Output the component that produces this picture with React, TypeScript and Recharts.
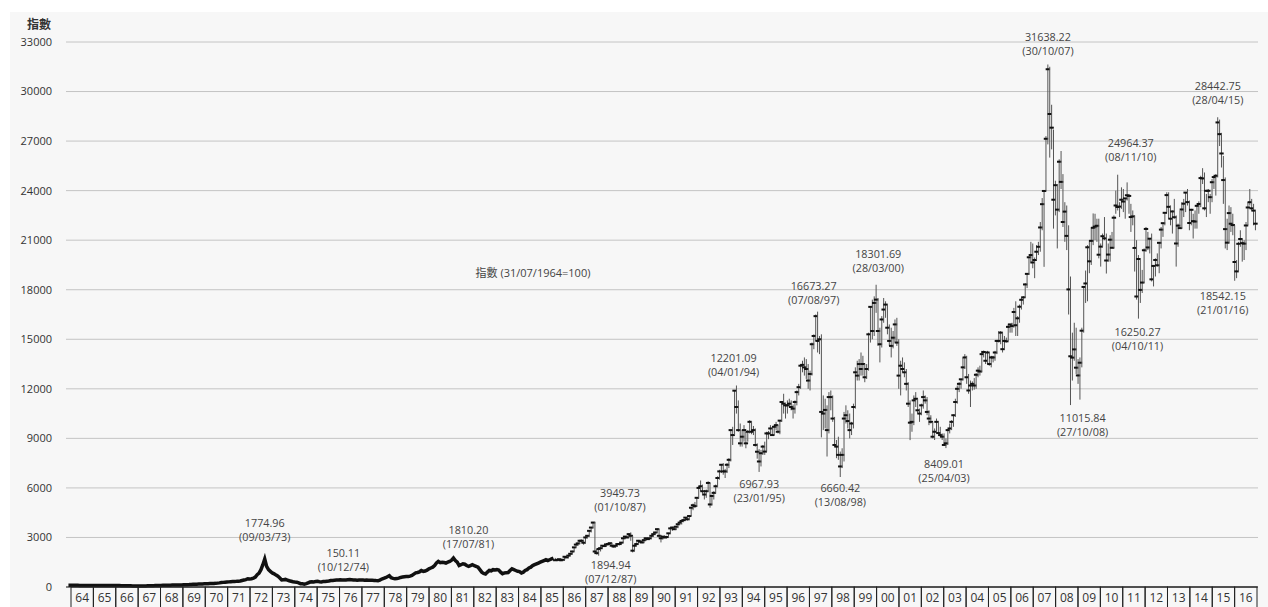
import { Bar, CartesianGrid, ComposedChart, Line, ReferenceDot, XAxis, YAxis } from "recharts";

// Hang Seng Index, monthly, from 07/1964. Closes only up to 12/1985.
const closeEarly = [
  100, 101, 102, 101, 100, 101,
  98, 95, 90, 86, 88, 90, 92, 91, 90, 88, 87, 86,
  87, 86, 85, 84, 85, 86, 87, 86, 85, 84, 82, 80,
  78, 75, 72, 70, 65, 62, 60, 60, 62, 63, 64, 66,
  70, 73, 76, 80, 85, 88, 92, 95, 100, 105, 108, 107,
  110, 115, 120, 125, 120, 118, 122, 130, 135, 140, 145, 155,
  160, 165, 170, 175, 180, 185, 190, 195, 200, 210, 215, 212,
  220, 235, 250, 270, 280, 290, 300, 310, 320, 330, 340, 341,
  345, 360, 390, 420, 450, 500, 480, 500, 530, 600, 750, 843,
  1050, 1350, 1700, 1250, 1050, 950, 850, 800, 720, 650, 550, 433,
  440, 460, 420, 380, 350, 320, 300, 290, 250, 200, 190, 171,
  200, 250, 300, 320, 310, 330, 340, 320, 310, 330, 340, 350,
  360, 390, 400, 410, 420, 430, 440, 430, 420, 430, 440, 447,
  440, 430, 420, 410, 420, 430, 420, 410, 420, 410, 405, 404,
  400, 390, 385, 420, 480, 520, 560, 620, 680, 560, 520, 496,
  510, 540, 580, 600, 620, 630, 640, 660, 700, 780, 860, 880,
  920, 1000, 950, 970, 1020, 1100, 1150, 1200, 1300, 1450, 1550, 1474,
  1500, 1480, 1450, 1500, 1550, 1620, 1750, 1600, 1500, 1300, 1350, 1405,
  1380, 1300, 1250, 1300, 1350, 1300, 1250, 1200, 1050, 900, 820, 784,
  900, 1000, 980, 1050, 1030, 1050, 1020, 900, 800, 850, 870, 875,
  1000, 1100, 1050, 1000, 950, 930, 850, 900, 1000, 1050, 1150, 1200,
  1300, 1350, 1400, 1450, 1500, 1550, 1600, 1650, 1600, 1650, 1700, 1752,
];

// 01/1986 - 12/2016: monthly high / low / close
const high = [
  1760, 1680, 1720, 1700, 1690, 1840, 1850, 1920, 2050, 2200, 2420, 2580,
  2700, 2850, 2880, 2860, 3050, 3150, 3450, 3620, 3949, 3940, 2300, 2400,
  2450, 2520, 2560, 2600, 2680, 2700, 2660, 2520, 2540, 2640, 2650, 2700,
  2980, 3100, 3100, 3250, 3310, 3100, 2550, 2700, 2850, 2830, 2780, 2860,
  3000, 3000, 3000, 3120, 3240, 3350, 3560, 3500, 3150, 3070, 3120, 3100,
  3280, 3560, 3650, 3660, 3700, 3820, 3980, 4040, 4100, 4230, 4260, 4300,
  4810, 5050, 5150, 5420, 6100, 6450, 6200, 5880, 5900, 6400, 6300, 5600,
  5800, 6200, 6700, 7100, 7450, 7500, 7150, 7500, 7800, 9500, 9700, 11900,
  12201, 11300, 9900, 9500, 9800, 9400, 9500, 10100, 10050, 9750, 9600, 8700,
  8350, 8300, 8600, 8800, 9400, 9450, 9800, 9650, 9800, 10000, 9800, 10100,
  11250, 11700, 11150, 11300, 11400, 11300, 11050, 11300, 11900, 12300, 13500, 13700,
  13900, 13800, 13500, 13100, 14800, 15300, 16500, 16673, 15200, 15300, 11600, 11400,
  11000, 11800, 11900, 11600, 10300, 8900, 9100, 8200, 8400, 10600, 11000, 10700,
  10500, 10000, 11100, 13300, 13700, 13800, 14200, 14000, 13500, 13500, 15400, 17000,
  17400, 17600, 18301, 17500, 15700, 16400, 17500, 17300, 17100, 15900, 15700, 15500,
  16200, 16300, 15000, 13700, 13900, 13600, 13200, 12400, 11300, 10500, 11600, 11800,
  11400, 10800, 11100, 11900, 11600, 11500, 10700, 10400, 10000, 9600, 10200, 10050,
  9700, 9300, 9300, 9000, 9550, 9900, 10100, 10450, 11400, 12200, 12400, 12600,
  13900, 14100, 14000, 12900, 12500, 12450, 12650, 12950, 13300, 13400, 14300, 14320,
  14270, 14300, 14200, 14000, 14000, 14300, 14900, 15500, 15500, 15400, 15200, 15100,
  15900, 15900, 16000, 16900, 17300, 16400, 17100, 17500, 17620, 18400, 19000, 20000,
  20900, 20800, 19950, 20700, 20900, 22100, 23550, 24000, 27300, 31638, 31500, 29200,
  27700, 24600, 24400, 25900, 26400, 25000, 23300, 23100, 21900, 18800, 15400, 16000,
  15700, 13800, 13900, 15700, 18200, 19160, 20700, 21000, 21800, 22620, 22600, 22300,
  22300, 20800, 21400, 22400, 21400, 20800, 21300, 21500, 22500, 24000, 24964, 23300,
  24200, 24100, 23500, 24500, 23800, 23200, 22800, 22500, 21000, 20100, 19800, 19200,
  20500, 21800, 21500, 21100, 21400, 19500, 19900, 20200, 20900, 21800, 22050, 22700,
  23900, 23900, 23100, 22800, 23500, 22500, 22000, 22800, 23300, 23500, 23900, 24100,
  23400, 22900, 22600, 22800, 23100, 23350, 24900, 25360, 25100, 23800, 24100, 23800,
  24700, 24900, 25000, 28443, 28300, 27500, 26100, 24800, 22300, 23100, 23000, 22600,
  21900, 19800, 20900, 21600, 21100, 21000, 22100, 23300, 24100, 23500, 23200, 22800,
];

const low = [
  1580, 1560, 1610, 1560, 1600, 1640, 1760, 1780, 1880, 1980, 2140, 2380,
  2500, 2600, 2700, 2560, 2650, 2950, 3050, 3300, 3550, 2000, 1960, 1895,
  2150, 2300, 2420, 2450, 2520, 2560, 2460, 2380, 2400, 2480, 2520, 2560,
  2680, 2900, 2950, 3000, 2800, 2093, 2180, 2480, 2580, 2650, 2640, 2680,
  2780, 2850, 2880, 2900, 3050, 3150, 3270, 3000, 2700, 2880, 2950, 2950,
  2980, 3230, 3400, 3480, 3450, 3560, 3760, 3780, 3920, 4010, 4020, 4050,
  4300, 4650, 4780, 4850, 5350, 5800, 5650, 5300, 5400, 5750, 4800, 4940,
  5300, 5650, 6050, 6500, 6900, 6800, 6600, 6900, 7200, 7600, 8600, 9200,
  10500, 9400, 8500, 8500, 8800, 8400, 8800, 9300, 9250, 9200, 8500, 7770,
  6968, 7300, 8000, 8000, 8200, 8950, 9150, 9150, 9200, 9500, 9300, 9250,
  10000, 10500, 10200, 10500, 10850, 10700, 10200, 10500, 11000, 11600, 12000, 13000,
  12800, 12600, 12000, 11900, 12800, 14400, 14900, 14200, 14100, 9059, 9500, 9600,
  7900, 9300, 10700, 10000, 8500, 7800, 7700, 6660, 7200, 7600, 9900, 9600,
  9000, 9200, 9600, 10800, 12500, 12500, 12800, 12800, 12400, 12600, 13100, 14800,
  15000, 15200, 16600, 14600, 13600, 14500, 16000, 16300, 15300, 14600, 13900, 14450,
  14800, 14600, 12000, 11600, 13000, 12700, 11900, 10900, 8894, 9400, 9800, 10900,
  10500, 10000, 10400, 10800, 11100, 10400, 9800, 9900, 9000, 8900, 9300, 9300,
  9100, 8900, 8600, 8409, 8600, 9300, 9500, 9700, 10300, 11100, 11800, 12000,
  12500, 13200, 12300, 11700, 10900, 11900, 11950, 12000, 12700, 12800, 13000, 13900,
  13500, 13500, 13400, 13300, 13600, 13700, 14100, 14800, 14700, 14200, 14400, 14800,
  14900, 15400, 15400, 15700, 15200, 15200, 16000, 16800, 17100, 17500, 18100, 18900,
  19600, 19300, 18700, 19800, 20100, 20300, 21600, 19386, 24000, 26800, 26000, 26500,
  21700, 22500, 20500, 22700, 24100, 21800, 20900, 20400, 16500, 11016, 12500, 13700,
  12900, 12300, 11345, 13300, 15400, 17200, 17300, 19000, 19500, 20700, 21000, 20900,
  19900, 19400, 20600, 21000, 18980, 19700, 19700, 20500, 20500, 22600, 22800, 22400,
  22900, 22700, 22300, 23400, 22600, 21500, 21900, 19100, 17400, 16250, 17200, 17800,
  18400, 20300, 20400, 20200, 18500, 18200, 18800, 19400, 19000, 20500, 21200, 21900,
  22700, 22300, 21900, 21400, 22300, 19400, 20600, 21700, 21700, 22400, 22700, 23100,
  21600, 21900, 21100, 21700, 21700, 22600, 23000, 24400, 22800, 22400, 23300, 22600,
  23300, 24100, 23700, 24800, 26700, 25400, 23200, 20500, 20400, 20800, 21500, 21300,
  18542, 18700, 19100, 20600, 19700, 19800, 20400, 21900, 23100, 22800, 21900, 21600,
];

const close = [
  1620, 1640, 1680, 1620, 1650, 1830, 1790, 1900, 2010, 2150, 2400, 2568,
  2640, 2800, 2800, 2680, 3000, 3100, 3400, 3600, 3900, 2150, 2050, 2303,
  2350, 2500, 2480, 2580, 2600, 2650, 2500, 2450, 2500, 2600, 2600, 2687,
  2950, 3050, 3000, 3200, 3100, 2200, 2500, 2600, 2800, 2750, 2700, 2837,
  2950, 2900, 2950, 3100, 3200, 3300, 3500, 3100, 2950, 3050, 3000, 3025,
  3250, 3550, 3600, 3500, 3650, 3800, 3900, 4000, 4050, 4200, 4100, 4297,
  4800, 4950, 4900, 5400, 6000, 6100, 5800, 5600, 5800, 6300, 5000, 5512,
  5700, 6100, 6600, 7000, 7400, 7000, 7000, 7400, 7700, 9500, 9200, 11888,
  10900, 9500, 8700, 9100, 9500, 8700, 9400, 10000, 9400, 9500, 8600, 8191,
  7600, 8100, 8500, 8200, 9300, 9300, 9600, 9200, 9700, 9800, 9400, 10073,
  11200, 11100, 11000, 11000, 11100, 10900, 10800, 11200, 11800, 12100, 13400, 13451,
  13300, 13200, 12500, 12900, 14700, 15200, 16400, 14900, 15000, 10600, 10500, 10722,
  9500, 11500, 11500, 10200, 8600, 8500, 8000, 7300, 8000, 10200, 10400, 10049,
  9500, 9900, 10900, 13000, 12800, 13500, 13200, 13500, 12700, 13200, 15300, 16962,
  15500, 17200, 17400, 15500, 14700, 16200, 16800, 17100, 15700, 14900, 14600, 15096,
  15900, 14800, 12800, 13400, 13200, 13000, 12300, 11100, 9950, 10000, 11300, 11397,
  10700, 10500, 11000, 11500, 11300, 10600, 10200, 10000, 9100, 9400, 10000, 9321,
  9200, 9100, 8600, 8700, 9500, 9600, 10000, 10400, 11200, 12000, 12300, 12576,
  13300, 13900, 12700, 11900, 12200, 12300, 12200, 12850, 13100, 13050, 14100, 14230,
  13700, 14200, 13500, 13900, 13900, 14200, 14900, 14900, 15400, 14400, 14900, 14876,
  15750, 15900, 15800, 16650, 15850, 16270, 16970, 17390, 17540, 18320, 18960, 19965,
  20100, 19650, 19800, 20300, 20600, 21770, 23180, 23980, 27140, 31350, 28640, 27812,
  23450, 24330, 22850, 25750, 24530, 22100, 22730, 21260, 18020, 13970, 13890, 14387,
  13280, 12810, 13580, 15520, 18170, 18380, 20570, 19720, 20960, 21750, 21820, 21873,
  20120, 20610, 21240, 21110, 19770, 20130, 21030, 20540, 22360, 23100, 23010, 23035,
  23450, 23340, 23530, 23720, 23680, 22400, 22440, 20530, 17590, 19860, 17990, 18434,
  20390, 21680, 20560, 21090, 18630, 19440, 19800, 19480, 20840, 21640, 22030, 22657,
  23730, 23020, 22300, 22740, 22390, 20800, 21880, 21730, 22860, 23210, 23880, 23306,
  22040, 22840, 22150, 22130, 23080, 23190, 24760, 24740, 22930, 23990, 23990, 23605,
  24510, 24820, 24900, 28130, 27420, 26250, 24640, 21670, 20850, 22640, 21996, 21914,
  19680, 19110, 20780, 21070, 20820, 20790, 21890, 22980, 23300, 22930, 22790, 22000,
];

const yearLabels = [
  "64", "65", "66", "67", "68", "69", "70", "71", "72", "73", "74", "75", "76", "77",
  "78", "79", "80", "81", "82", "83", "84", "85", "86", "87", "88", "89", "90", "91",
  "92", "93", "94", "95", "96", "97", "98", "99", "00", "01", "02", "03", "04", "05",
  "06", "07", "08", "09", "10", "11", "12", "13", "14", "15", "16",
];

const yTicks = [0, 3000, 6000, 9000, 12000, 15000, 18000, 21000, 24000, 27000, 30000, 33000];

// highs and lows that carry a label: year, month, value, text, date
const marks = [
  { y: 1973, m: 3, v: 1774.96, text: "1774.96", date: "(09/03/73)", dx: 0, dy: -35 },
  { y: 1974, m: 12, v: 150.11, text: "150.11", date: "(10/12/74)", dx: 39, dy: -32 },
  { y: 1981, m: 7, v: 1810.2, text: "1810.20", date: "(17/07/81)", dx: 15, dy: -27 },
  { y: 1987, m: 10, v: 3949.73, text: "3949.73", date: "(01/10/87)", dx: 25, dy: -29 },
  { y: 1987, m: 12, v: 1894.94, text: "1894.94", date: "(07/12/87)", dx: 12, dy: 9 },
  { y: 1994, m: 1, v: 12201.09, text: "12201.09", date: "(04/01/94)", dx: -3, dy: -27 },
  { y: 1995, m: 1, v: 6967.93, text: "6967.93", date: "(23/01/95)", dx: 0, dy: 12 },
  { y: 1997, m: 8, v: 16673.27, text: "16673.27", date: "(07/08/97)", dx: -4, dy: -26 },
  { y: 1998, m: 8, v: 6660.42, text: "6660.42", date: "(13/08/98)", dx: 0, dy: 11 },
  { y: 2000, m: 3, v: 18301.69, text: "18301.69", date: "(28/03/00)", dx: 2, dy: -31 },
  { y: 2003, m: 4, v: 8409.01, text: "8409.01", date: "(25/04/03)", dx: -2, dy: 16 },
  { y: 2007, m: 10, v: 31638.22, text: "31638.22", date: "(30/10/07)", dx: 0, dy: -27 },
  { y: 2008, m: 10, v: 11015.84, text: "11015.84", date: "(27/10/08)", dx: 12, dy: 13 },
  { y: 2010, m: 11, v: 24964.37, text: "24964.37", date: "(08/11/10)", dx: 13, dy: -32 },
  { y: 2011, m: 10, v: 16250.27, text: "16250.27", date: "(04/10/11)", dx: -1, dy: 13 },
  { y: 2015, m: 4, v: 28442.75, text: "28442.75", date: "(28/04/15)", dx: 0, dy: -31 },
  { y: 2016, m: 1, v: 18542.15, text: "18542.15", date: "(21/01/16)", dx: -12, dy: 15 },
];

const monthIndex = (y: number, m: number) => (y - 1964) * 12 + (m - 7);

const rows: any[] = [];
closeEarly.forEach((c, i) => rows.push({ i, c }));
close.forEach((c, k) =>
  rows.push({ i: closeEarly.length + k, range: [low[k], high[k]], hi: high[k], lo: low[k], cl: c })
);

const FONT = "'Open Sans', 'Noto Sans CJK TC', sans-serif";
const W = 1268;
const H = 607;
const AXIS_H = 20;
const PLOT_BOTTOM = H - AXIS_H;
const PLOT_LEFT = 66;
const PLOT_RIGHT = 1258;
const X_DOMAIN: [number, number] = [-1.3, 630.3];
// the year cells run from x=71 to x=1257, 53 equal cells
const CELL_LEFT = 71;
const CELL_W = 1186 / 53;
const pxToMonth = (px: number) =>
  X_DOMAIN[0] + ((px - PLOT_LEFT) / (PLOT_RIGHT - PLOT_LEFT)) * (X_DOMAIN[1] - X_DOMAIN[0]);
const cellTicks = yearLabels.map((_, k) => pxToMonth(CELL_LEFT + (k + 0.5) * CELL_W));

function HLBar(props: any) {
  const { x, y, width, height, payload } = props;
  if (!payload || !payload.range) return null;
  const cx = x + width / 2;
  const top = Math.min(y, y + height);
  const bottom = Math.max(y, y + height);
  const span = payload.hi - payload.lo;
  const cy = span > 0 ? top + ((payload.hi - payload.cl) / span) * (bottom - top) : top;
  return (
    <g>
      <line x1={cx} x2={cx} y1={top} y2={bottom} stroke="#555" strokeWidth={1} />
      <line x1={cx - 2.2} x2={cx + 2.2} y1={cy} y2={cy} stroke="#111" strokeWidth={2} />
    </g>
  );
}

function YearTick(props: any) {
  const { x, index } = props;
  const label = yearLabels[index];
  return (
    <g>
      <rect x={x - CELL_W / 2} y={PLOT_BOTTOM} width={CELL_W} height={AXIS_H + 2} fill="none" stroke="#222" strokeWidth={1} />
      <text x={x} y={PLOT_BOTTOM + 15} textAnchor="middle" fontSize={12} fill="#333" fontFamily={FONT}>
        {label}
      </text>
    </g>
  );
}

function markShape(mk: (typeof marks)[number]) {
  return (p: any) => (
    <g>
      <text x={p.cx + mk.dx} y={p.cy + mk.dy + 4} textAnchor="middle" fontSize={10.8} fill="#444" fontFamily={FONT}>
        {mk.text}
      </text>
      <text x={p.cx + mk.dx} y={p.cy + mk.dy + 18} textAnchor="middle" fontSize={10.8} fill="#444" fontFamily={FONT}>
        {mk.date}
      </text>
    </g>
  );
}

export default function App() {
  return (
    <div style={{ position: "absolute", left: 0, top: 0, width: W, height: H, background: "#fff", fontFamily: FONT, overflow: "hidden" }}>
      <div style={{ position: "absolute", left: 10, top: 12, width: W - 10, height: H - 12, background: "#f7f7f7" }} />
      <div style={{ position: "absolute", left: 27, top: 15, fontSize: 12, fontWeight: 700, color: "#333" }}>指數</div>
      <div style={{ position: "absolute", left: 533, top: 272, transform: "translate(-50%, -50%)", fontSize: 11, color: "#444", whiteSpace: "nowrap" }}>
        指數 (31/07/1964=100)
      </div>
      <div style={{ position: "absolute", left: 0, top: 0 }}>
        <ComposedChart width={W} height={H} data={rows} margin={{ top: 42, right: W - PLOT_RIGHT, left: 0, bottom: 0 }}>
          <CartesianGrid xAxisId="m" vertical={false} stroke="#c4c4c4" strokeWidth={1} />
          <XAxis
            xAxisId="m"
            type="number"
            dataKey="i"
            domain={X_DOMAIN}
            allowDataOverflow
            ticks={cellTicks}
            interval={0}
            tick={<YearTick />}
            tickLine={false}
            tickSize={0}
            axisLine={{ stroke: "#222" }}
            height={AXIS_H}
          />
          <YAxis
            type="number"
            domain={[0, 33000]}
            ticks={yTicks}
            interval={0}
            width={PLOT_LEFT}
            axisLine={false}
            tickLine={false}
            tickSize={0}
            tickMargin={14}
            tick={{ fontSize: 11, fill: "#333", fontFamily: FONT }}
          />
          <Line xAxisId="m" dataKey="c" dot={false} stroke="#111" strokeWidth={3.5} isAnimationActive={false} />
          <Bar xAxisId="m" dataKey="range" barSize={2} shape={<HLBar />} isAnimationActive={false} />
          {marks.map((mk) => (
            <ReferenceDot key={mk.text} xAxisId="m" x={monthIndex(mk.y, mk.m)} y={mk.v} shape={markShape(mk)} />
          ))}
        </ComposedChart>
      </div>
    </div>
  );
}
